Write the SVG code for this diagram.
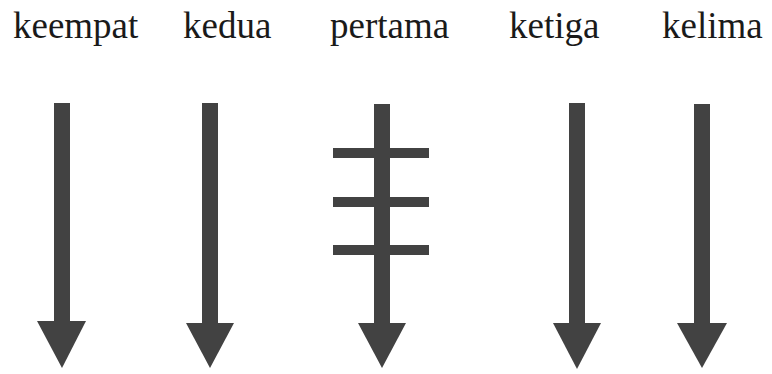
<svg xmlns="http://www.w3.org/2000/svg" width="772" height="374" viewBox="0 0 772 374">
<style>
.lbl{font-family:"Liberation Serif","Times New Roman",serif;font-size:37px;fill:#1a1a1a}
.shaft{fill:#424242}
.head{fill:#424242}
</style>
<rect width="772" height="374" fill="#ffffff"/>
<g id="labels">
<text class="lbl" x="13" y="38">keempat</text>
<text class="lbl" x="183" y="38">kedua</text>
<text class="lbl" x="330" y="38">pertama</text>
<text class="lbl" x="509" y="38">ketiga</text>
<text class="lbl" x="662" y="38">kelima</text>
</g>
<g id="connectors">
<g id="arrow-keempat">
<rect class="shaft" x="54" y="103" width="16" height="222"/>
<polygon class="head" points="37,321 86,321 62,368"/>
</g>
<g id="arrow-kedua">
<rect class="shaft" x="202" y="103" width="16" height="224"/>
<polygon class="head" points="186,323 234,323 210,368"/>
</g>
<g id="arrow-pertama">
<rect class="shaft" x="374" y="104" width="16" height="223"/>
<rect class="shaft" x="333" y="148" width="96" height="10"/>
<rect class="shaft" x="333" y="197" width="96" height="10"/>
<rect class="shaft" x="333" y="245" width="96" height="10"/>
<polygon class="head" points="358,323 406,323 382,368"/>
</g>
<g id="arrow-ketiga">
<rect class="shaft" x="569" y="103" width="16" height="224"/>
<polygon class="head" points="553,323 601,323 577,369"/>
</g>
<g id="arrow-kelima">
<rect class="shaft" x="694" y="104" width="16" height="223"/>
<polygon class="head" points="677,323 727,323 702,368"/>
</g>
</g>
</svg>
